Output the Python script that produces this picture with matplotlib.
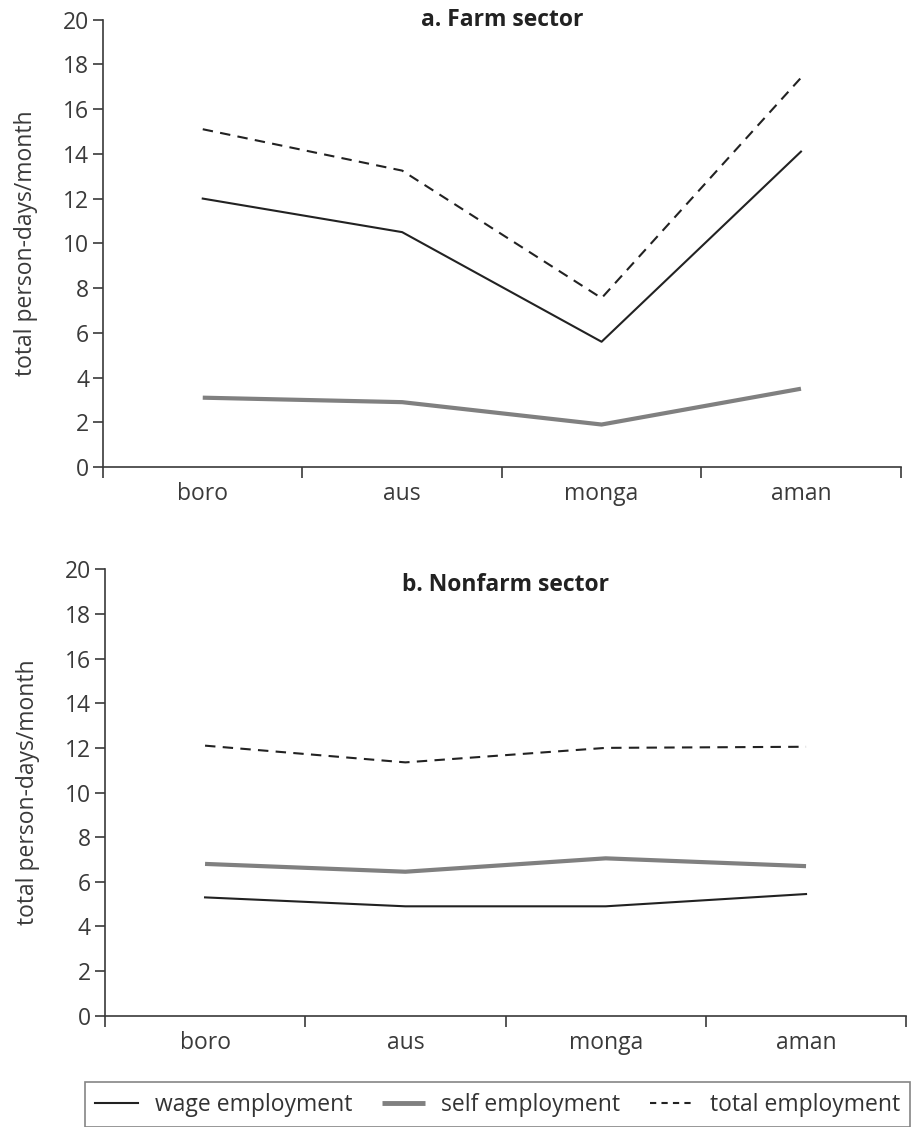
import matplotlib
matplotlib.use("Agg")
import matplotlib.pyplot as plt
from matplotlib.lines import Line2D

plt.rcParams["font.family"] = ["Open Sans", "DejaVu Sans"]

SEASONS = ["boro", "aus", "monga", "aman"]

# panel a: farm sector (person-days/month)
FARM_WAGE = [12.0, 10.5, 5.6, 14.1]
FARM_SELF = [3.1, 2.9, 1.9, 3.5]
FARM_TOTAL = [15.1, 13.25, 7.55, 17.4]

# panel b: nonfarm sector
NONFARM_WAGE = [5.3, 4.9, 4.9, 5.45]
NONFARM_SELF = [6.8, 6.45, 7.05, 6.7]
NONFARM_TOTAL = [12.1, 11.35, 12.0, 12.05]

TITLES = ["a. Farm sector", "b. Nonfarm sector"]
LABELS = ["wage employment", "self employment", "total employment"]

AX_COLOR = "#3a3a3a"
SELF_COLOR = "#808080"
FS = 16.5

fig = plt.figure(figsize=(9.2, 11.27), dpi=100)
ax_a = fig.add_axes([0.112, 0.5856, 0.867, 0.397])
ax_b = fig.add_axes([0.114, 0.0988, 0.871, 0.396])

panels = [(ax_a, FARM_WAGE, FARM_SELF, FARM_TOTAL, 1.0),
          (ax_b, NONFARM_WAGE, NONFARM_SELF, NONFARM_TOTAL, 0.965)]

x = list(range(len(SEASONS)))
for (ax, wage, self_emp, total, ty), title in zip(panels, TITLES):
    ax.plot(x, total, color="#222222", lw=1.5, ls=(0, (5, 3.5)))
    ax.plot(x, wage, color="#222222", lw=1.5)
    ax.plot(x, self_emp, color=SELF_COLOR, lw=3.0, solid_capstyle="butt")
    ax.set_xlim(-0.5, 3.5)
    ax.set_ylim(0, 20)
    ax.set_yticks(range(0, 21, 2))
    ax.set_xticks(x)
    ax.set_xticklabels(SEASONS)
    ax.set_xticks([-0.5, 0.5, 1.5, 2.5, 3.5], minor=True)
    ax.tick_params(axis="x", which="major", length=0, pad=11, labelsize=FS, colors=AX_COLOR)
    ax.tick_params(axis="x", which="minor", length=8, width=1.2, color=AX_COLOR)
    ax.tick_params(axis="y", length=7, width=1.2, labelsize=FS, colors=AX_COLOR, pad=3)
    for side in ("top", "right"):
        ax.spines[side].set_visible(False)
    for side in ("left", "bottom"):
        ax.spines[side].set_color(AX_COLOR)
        ax.spines[side].set_linewidth(1.2)
    ax.set_ylabel("total person-days/month", fontsize=FS, color=AX_COLOR, labelpad=18)
    ax.text(0.5, ty, title, transform=ax.transAxes, ha="center", va="center",
            fontsize=FS, fontweight="bold", color="#222222")

handles = [Line2D([], [], color="#222222", lw=1.5),
           Line2D([], [], color=SELF_COLOR, lw=3.5, solid_capstyle="butt"),
           Line2D([], [], color="#222222", lw=1.5, ls=(0, (3, 2.5)))]
leg = fig.legend(handles, LABELS, loc="lower left", ncol=3,
                 bbox_to_anchor=(0.092, 0.0), frameon=True,
                 fancybox=False, handlelength=1.9, handletextpad=0.7,
                 columnspacing=1.3, borderaxespad=0.0, borderpad=0.45,
                 prop={"family": ["Open Sans", "DejaVu Sans"], "size": 16.5})
leg.get_frame().set_edgecolor("#666666")
leg.get_frame().set_linewidth(1.2)
for t in leg.get_texts():
    t.set_color("#333333")

fig.savefig("out.png", dpi=100)
